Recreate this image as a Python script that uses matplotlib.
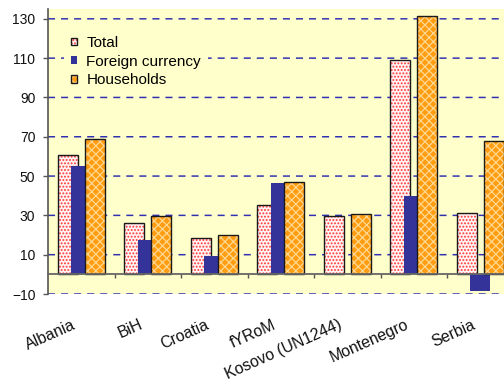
import numpy as np
import matplotlib
matplotlib.use("Agg")
import matplotlib.pyplot as plt
import matplotlib.transforms as mtransforms
from matplotlib.legend_handler import HandlerTuple
from matplotlib.patches import Patch

# Data
countries = ["Albania", "BiH", "Croatia", "fYRoM", "Kosovo (UN1244)", "Montenegro", "Serbia"]
total = [60.5, 26.3, 18.3, 35.4, 29.8, 108.9, 31.2]
foreign_currency = [55.3, 17.6, 9.5, 46.6, np.nan, 40.0, -8.7]
households = [69.0, 29.8, 20.0, 47.0, 30.7, 131.6, 67.6]
series_names = ["Total", "Foreign currency", "Households"]
y_ticks = [-10, 10, 30, 50, 70, 90, 110, 130]

plt.rcParams["font.family"] = ["Liberation Sans", "DejaVu Sans"]
plt.rcParams["hatch.linewidth"] = 0.9

DPI = 100
PX = 72 / DPI  # one pixel in points
fig = plt.figure(figsize=(5.04, 3.85), dpi=DPI, facecolor="white")
ax = fig.add_axes([48 / 504, (385 - 294) / 385, 465.5 / 504, 285 / 385])
ax.set_facecolor("#FFFFCC")

x = np.arange(len(countries))
width = 0.30
step = 0.205

total_face = dict(facecolor="#FFF2F2", hatch=".....", edgecolor="#FF3535")
house_face = dict(facecolor="#FF9C10", hatch="xxxx", edgecolor="#FFD890")
outline = dict(fill=False, edgecolor="#1a1a1a", linewidth=1.0)

ax.bar(x - step, total, width, linewidth=0, zorder=3, **total_face)
ax.bar(x - step, total, width, zorder=3, **outline)
ax.bar(x, foreign_currency, width, color="#333399", linewidth=0, zorder=3)
ax.bar(x + step, households, width, linewidth=0, zorder=3, **house_face)
ax.bar(x + step, households, width, zorder=3, **outline)

ax.set_xlim(-0.5, len(countries) - 0.5)
ax.set_ylim(-10, 135)

# Grid: dashed navy lines
ax.set_yticks(y_ticks)
ax.yaxis.grid(True, color="#3030B0", linestyle=(0, (4.7, 4)), linewidth=PX * 1.5,
              snap=False)
ax.set_axisbelow(True)
ax.tick_params(axis="y", length=3.6, width=1.0, color="#555555", pad=5.5,
               labelsize=10, labelcolor="#111111")

# Category axis on the zero line, with ticks between groups
for s in ["top", "right"]:
    ax.spines[s].set_visible(False)
ax.spines["bottom"].set_position(("data", 0))
ax.spines["bottom"].set_color("#666666")
ax.spines["bottom"].set_linewidth(1.3)
ax.spines["bottom"].set_zorder(4)
ax.spines["left"].set_color("#555555")
ax.spines["left"].set_linewidth(1.2)
ax.set_xticks(x[:-1] + 0.5)
ax.set_xticklabels([])
ax.tick_params(axis="x", length=3, width=1.0, color="#555555", direction="out")

# Rotated category labels below the plot area
trans = mtransforms.blended_transform_factory(ax.transData, ax.transAxes)
trans = mtransforms.offset_copy(trans, fig=fig, x=-3, y=-23, units="dots")
for xi, name in zip(x, countries):
    ax.text(xi, 0, name, transform=trans, rotation=24, ha="right", va="top",
            fontsize=11.4, color="#111111")

# Legend
hp_total = Patch(linewidth=0, **total_face)
hp_total_o = Patch(**outline)
hp_for = Patch(facecolor="#333399", linewidth=0)
hp_house = Patch(linewidth=0, **house_face)
hp_house_o = Patch(**outline)
pad_px = 7.5
leg = ax.legend([(hp_total, hp_total_o), hp_for, (hp_house, hp_house_o)], series_names,
                handler_map={tuple: HandlerTuple(ndivide=1)},
                loc="upper left",
                bbox_to_anchor=((71 - pad_px) / 504, 1 - (36 - pad_px) / 385),
                bbox_transform=fig.transFigure, frameon=True, fancybox=False,
                facecolor="#FFFFCC", edgecolor="none", framealpha=1,
                borderpad=pad_px / 15.3, borderaxespad=0, fontsize=11,
                handlelength=0.4, handleheight=0.4, handletextpad=0.6,
                labelspacing=0.3)

fig.savefig("out.png", dpi=DPI, facecolor="white")
